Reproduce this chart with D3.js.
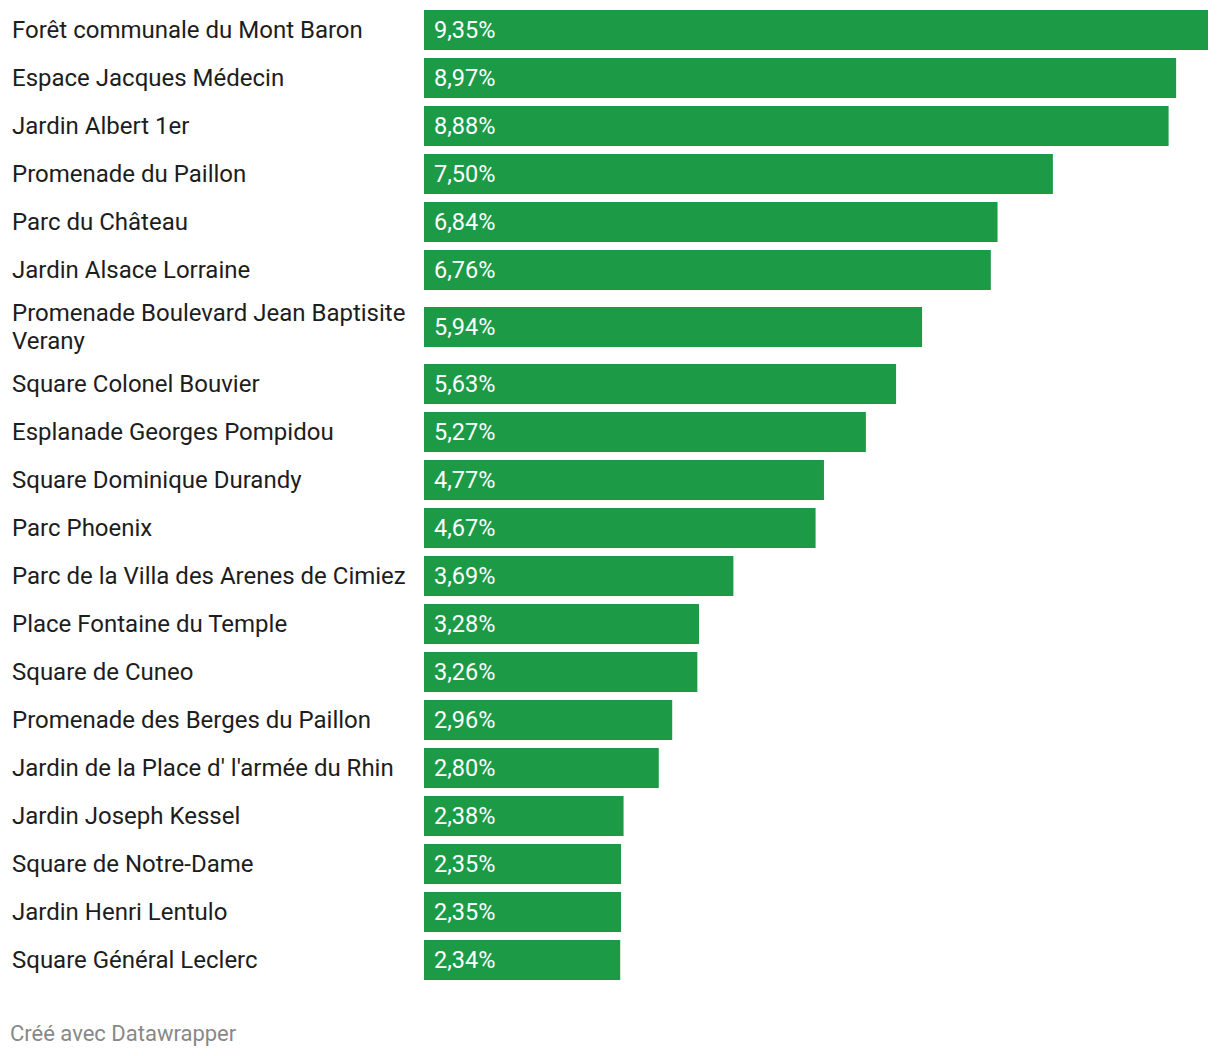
<!DOCTYPE html>
<html>
<head>
<meta charset="utf-8">
<script src="https://cdn.jsdelivr.net/npm/d3@7"></script>
<style>
  html, body { margin: 0; padding: 0; background: #fff; }
  svg { display: block; font-family: Roboto, "Noto Sans", sans-serif; }
</style>
</head>
<body>
<svg id="chart" width="1220" height="1056"></svg>
<script>
const categories = [
  "Forêt communale du Mont Baron",
  "Espace Jacques Médecin",
  "Jardin Albert 1er",
  "Promenade du Paillon",
  "Parc du Château",
  "Jardin Alsace Lorraine",
  "Promenade Boulevard Jean Baptisite Verany",
  "Square Colonel Bouvier",
  "Esplanade Georges Pompidou",
  "Square Dominique Durandy",
  "Parc Phoenix",
  "Parc de la Villa des Arenes de Cimiez",
  "Place Fontaine du Temple",
  "Square de Cuneo",
  "Promenade des Berges du Paillon",
  "Jardin de la Place d' l'armée du Rhin",
  "Jardin Joseph Kessel",
  "Square de Notre-Dame",
  "Jardin Henri Lentulo",
  "Square Général Leclerc"
];
const values = [9.35, 8.97, 8.88, 7.50, 6.84, 6.76, 5.94, 5.63, 5.27, 4.77, 4.67, 3.69, 3.28, 3.26, 2.96, 2.80, 2.38, 2.35, 2.35, 2.34];
const footer = "Créé avec Datawrapper";

(function () {
const svg = d3.select("#chart");
const labelX = 12, barX = 424, barMaxX = 1208, wrapW = 408;
const fontSize = 24, valueSize = 23.5;

const x = d3.scaleLinear().domain([0, d3.max(values)]).range([barX, barMaxX]);
const fmt = v => d3.format(".2f")(v).replace(".", ",") + "%";

const meas = svg.append("text").attr("font-size", fontSize).attr("visibility", "hidden");
function wrap(str) {
  const words = str.split(" ");
  const lines = [];
  let cur = "";
  for (const w of words) {
    const t = cur ? cur + " " + w : w;
    meas.text(t);
    if (meas.node().getComputedTextLength() > wrapW && cur) { lines.push(cur); cur = w; }
    else cur = t;
  }
  lines.push(cur);
  return lines;
}
const rows = categories.map((c, i) => ({ name: c, value: values[i], lines: wrap(c) }));
meas.remove();

const lineH = 28, baseRow = 48, barH = 40;
let yPos = 6;
rows.forEach(r => {
  r.h = baseRow + (r.lines.length - 1) * 18;
  r.top = yPos;
  r.cy = yPos + r.h / 2;
  yPos += r.h;
});

const g = svg.append("g");
const row = g.selectAll("g.row").data(rows).join("g").attr("class", "row");

row.append("rect")
  .attr("x", barX)
  .attr("y", d => d.cy - barH / 2)
  .attr("width", d => x(d.value) - barX)
  .attr("height", barH)
  .attr("fill", "#1d9a46");

row.append("text")
  .attr("x", barX + 10)
  .attr("y", d => d.cy)
  .attr("dy", "0.35em")
  .attr("font-size", valueSize)
  .attr("fill", "#fff")
  .text(d => fmt(d.value));

row.append("text")
  .attr("font-size", fontSize)
  .attr("fill", "#1d1d1d")
  .each(function(d) {
    const t = d3.select(this);
    const n = d.lines.length;
    d.lines.forEach((ln, k) => {
      t.append("tspan")
        .attr("x", labelX)
        .attr("y", d.cy + (k - (n - 1) / 2) * lineH)
        .attr("dy", "0.35em")
        .text(ln);
    });
  });

svg.append("text")
  .attr("x", 10)
  .attr("y", 1033)
  .attr("dy", "0.35em")
  .attr("font-size", 22)
  .attr("fill", "#888")
  .text(footer);
})();
</script>
</body>
</html>
